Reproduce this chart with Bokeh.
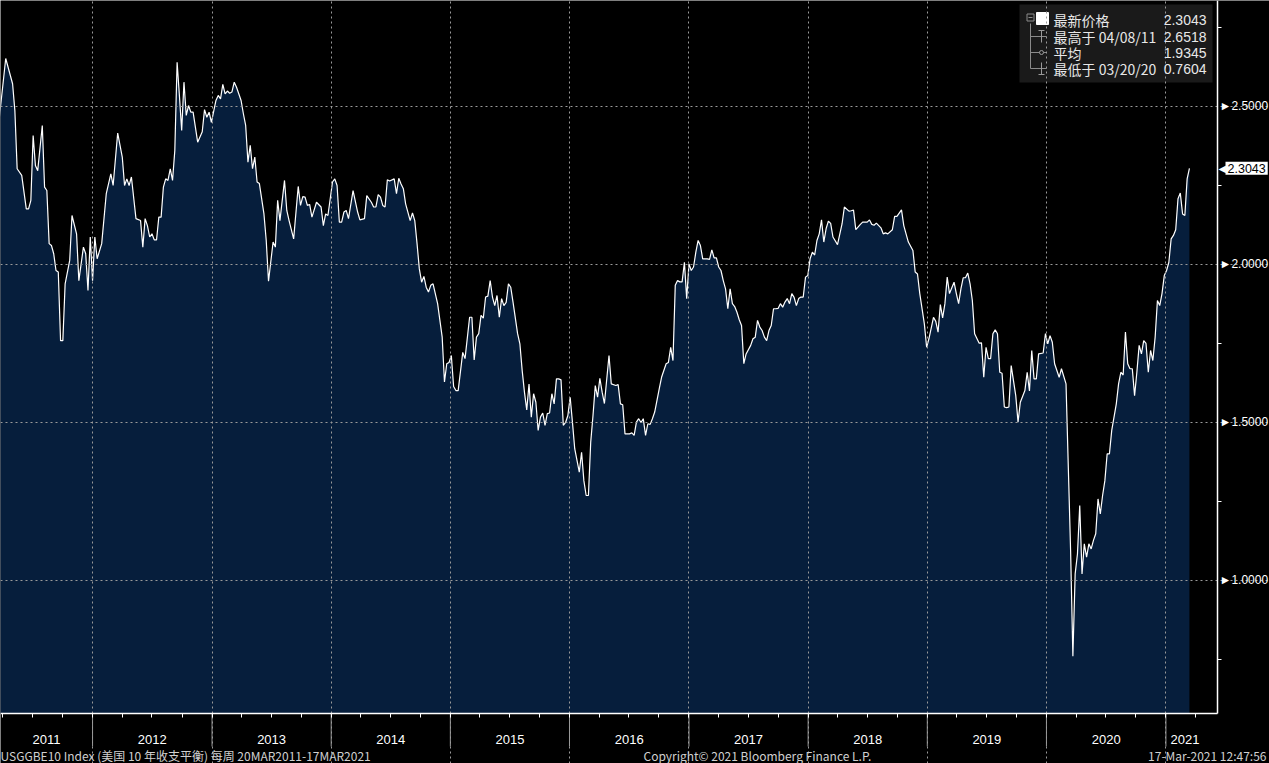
import numpy as np
import pandas as pd
from bokeh.plotting import figure
from bokeh.models import (Range1d, LinearAxis, FixedTicker, Grid, Label,
                          CustomJSTickFormatter, ColumnDataSource)
from bokeh.embed import file_html
from bokeh.resources import INLINE

# ---------------- data ----------------
start_date = "2011-03-20"          # weekly series, week 0 = this date
weeks = [0, 3, 6, 7, 8, 10, 12, 13, 14, 15, 16, 17, 19, 20, 21, 22, 23, 24, 25, 26,
         27, 28, 29, 31, 32, 34, 35, 37, 38, 39, 40, 41, 42, 43, 45, 47, 49, 50, 52, 54,
         55, 56, 57, 58, 60, 62, 63, 64, 65, 66, 67, 68, 69, 70, 71, 72, 73, 74, 75, 76,
         77, 78, 79, 80, 81, 82, 83, 84, 85, 87, 89, 90, 91, 92, 93, 95, 96, 97, 98, 99,
         100, 101, 102, 103, 104, 106, 107, 108, 109, 110, 111, 112, 113, 114, 116, 117, 118, 120, 121, 122,
         123, 125, 126, 127, 129, 131, 132, 133, 134, 135, 136, 137, 139, 141, 142, 143, 144, 146, 147, 148,
         149, 150, 151, 152, 153, 155, 157, 158, 160, 161, 163, 164, 165, 166, 167, 168, 169, 170, 171, 173,
         174, 175, 176, 177, 178, 180, 181, 182, 183, 184, 185, 186, 187, 188, 189, 190, 192, 194, 195, 196,
         197, 198, 199, 200, 201, 203, 204, 206, 207, 208, 209, 210, 211, 212, 213, 214, 215, 216, 217, 218,
         219, 220, 221, 222, 223, 224, 225, 227, 228, 229, 230, 231, 232, 233, 234, 235, 236, 237, 238, 239,
         240, 241, 242, 243, 244, 245, 246, 247, 248, 249, 250, 251, 252, 254, 255, 256, 257, 258, 259, 260,
         261, 262, 263, 264, 265, 267, 268, 270, 271, 272, 273, 274, 276, 277, 278, 279, 280, 281, 282, 283,
         284, 285, 286, 287, 289, 290, 292, 293, 294, 295, 296, 297, 298, 299, 300, 301, 302, 303, 304, 305,
         306, 307, 308, 310, 311, 312, 313, 314, 315, 316, 317, 318, 319, 320, 321, 322, 323, 324, 325, 326,
         327, 329, 330, 331, 332, 333, 334, 335, 336, 337, 338, 339, 340, 341, 342, 343, 344, 345, 346, 347,
         348, 349, 350, 351, 352, 353, 354, 355, 356, 357, 358, 359, 360, 361, 362, 363, 364, 365, 367, 369,
         370, 372, 373, 374, 375, 377, 378, 380, 381, 382, 383, 384, 386, 387, 388, 389, 391, 392, 393, 395,
         396, 398, 400, 401, 402, 403, 405, 406, 407, 409, 410, 411, 412, 413, 414, 415, 416, 418, 419, 420,
         421, 422, 423, 424, 425, 426, 427, 429, 430, 431, 432, 433, 434, 435, 436, 437, 438, 439, 440, 441,
         442, 443, 445, 446, 447, 449, 450, 451, 452, 453, 454, 455, 457, 458, 459, 460, 461, 462, 464, 465,
         467, 468, 469, 470, 471, 472, 473, 474, 475, 476, 477, 478, 479, 480, 481, 482, 483, 484, 485, 486,
         487, 489, 490, 491, 492, 493, 494, 495, 496, 497, 498, 499, 500, 501, 502, 503, 504, 505, 506, 507,
         508, 509, 510, 511, 512, 513, 514, 515, 516, 517, 518, 519, 520, 521]
values = [2.450, 2.6518, 2.572, 2.487, 2.303, 2.282, 2.176, 2.176, 2.203, 2.408, 2.313, 2.297, 2.440, 2.245, 2.234, 2.066, 2.060, 2.034, 1.981, 1.976,
          1.759, 1.759, 1.939, 2.013, 2.155, 2.097, 1.949, 2.055, 2.034, 1.918, 2.087, 1.949, 2.087, 2.018, 2.066, 2.224, 2.287, 2.250, 2.416, 2.340,
          2.250, 2.271, 2.250, 2.277, 2.145, 2.139, 2.055, 2.145, 2.123, 2.087, 2.097, 2.078, 2.078, 2.150, 2.150, 2.245, 2.271, 2.266, 2.303, 2.266,
          2.361, 2.640, 2.535, 2.424, 2.577, 2.472, 2.503, 2.482, 2.482, 2.387, 2.420, 2.490, 2.466, 2.482, 2.450, 2.519, 2.535, 2.524, 2.570, 2.540,
          2.549, 2.542, 2.546, 2.577, 2.561, 2.519, 2.477, 2.440, 2.324, 2.377, 2.303, 2.340, 2.261, 2.256, 2.160, 2.076, 1.947, 2.071, 2.055, 2.203,
          2.139, 2.266, 2.171, 2.139, 2.081, 2.247, 2.187, 2.215, 2.213, 2.187, 2.190, 2.150, 2.197, 2.182, 2.123, 2.160, 2.155, 2.261, 2.271, 2.250,
          2.134, 2.134, 2.166, 2.171, 2.145, 2.234, 2.166, 2.141, 2.145, 2.218, 2.197, 2.182, 2.182, 2.221, 2.213, 2.187, 2.182, 2.268, 2.264, 2.271,
          2.224, 2.273, 2.255, 2.240, 2.192, 2.139, 2.163, 2.139, 2.066, 1.986, 1.944, 1.962, 1.928, 1.913, 1.934, 1.939, 1.876, 1.770, 1.628, 1.686,
          1.690, 1.712, 1.614, 1.601, 1.601, 1.722, 1.702, 1.833, 1.833, 1.698, 1.770, 1.781, 1.839, 1.830, 1.897, 1.900, 1.949, 1.897, 1.870, 1.902,
          1.833, 1.892, 1.870, 1.880, 1.939, 1.928, 1.881, 1.781, 1.749, 1.665, 1.596, 1.540, 1.622, 1.517, 1.591, 1.564, 1.475, 1.517, 1.530, 1.491,
          1.528, 1.530, 1.591, 1.559, 1.638, 1.638, 1.635, 1.491, 1.500, 1.522, 1.580, 1.501, 1.417, 1.343, 1.406, 1.316, 1.269, 1.269, 1.438, 1.522,
          1.617, 1.580, 1.640, 1.596, 1.560, 1.712, 1.622, 1.617, 1.620, 1.559, 1.556, 1.464, 1.464, 1.467, 1.459, 1.501, 1.512, 1.500, 1.512, 1.459,
          1.496, 1.494, 1.512, 1.533, 1.607, 1.643, 1.686, 1.690, 1.738, 1.696, 1.934, 1.949, 1.945, 1.945, 2.007, 1.892, 2.002, 1.981, 1.992, 2.039,
          2.076, 2.060, 2.018, 2.018, 2.016, 2.046, 2.021, 2.021, 1.992, 1.981, 1.949, 1.923, 1.860, 1.923, 1.876, 1.867, 1.849, 1.825, 1.807, 1.686,
          1.717, 1.744, 1.765, 1.770, 1.823, 1.802, 1.791, 1.770, 1.759, 1.791, 1.807, 1.860, 1.860, 1.861, 1.876, 1.865, 1.881, 1.892, 1.876, 1.908,
          1.896, 1.870, 1.892, 1.897, 1.897, 1.960, 1.965, 2.018, 2.039, 2.030, 2.076, 2.097, 2.141, 2.071, 2.113, 2.137, 2.130, 2.087, 2.063, 2.129,
          2.182, 2.169, 2.170, 2.172, 2.110, 2.127, 2.134, 2.134, 2.141, 2.127, 2.124, 2.131, 2.116, 2.097, 2.100, 2.097, 2.110, 2.152, 2.152, 2.173,
          2.123, 2.071, 2.044, 1.976, 1.970, 1.908, 1.812, 1.738, 1.765, 1.833, 1.820, 1.786, 1.873, 1.831, 1.876, 1.960, 1.908, 1.944, 1.908, 1.876,
          1.923, 1.958, 1.958, 1.973, 1.939, 1.886, 1.781, 1.751, 1.752, 1.643, 1.738, 1.702, 1.702, 1.781, 1.793, 1.781, 1.659, 1.656, 1.549, 1.547,
          1.549, 1.680, 1.585, 1.501, 1.564, 1.601, 1.659, 1.600, 1.728, 1.638, 1.638, 1.717, 1.720, 1.781, 1.749, 1.775, 1.754, 1.686, 1.643, 1.670,
          1.622, 1.358, 1.095, 0.7604, 1.021, 1.084, 1.237, 1.021, 1.116, 1.074, 1.116, 1.100, 1.127, 1.148, 1.258, 1.211, 1.269, 1.316, 1.401, 1.401,
          1.475, 1.559, 1.622, 1.659, 1.650, 1.786, 1.686, 1.670, 1.670, 1.585, 1.659, 1.744, 1.717, 1.759, 1.750, 1.659, 1.728, 1.696, 1.770, 1.886,
          1.870, 1.908, 1.965, 1.981, 2.007, 2.081, 2.092, 2.110, 2.208, 2.226, 2.160, 2.155, 2.271, 2.3043]

year_labels = ["2011", "2012", "2013", "2014", "2015", "2016", "2017", "2018", "2019", "2020", "2021"]
y_ticks = [1.0, 1.5, 2.0, 2.5]
y_minor_ticks = [0.75, 1.25, 1.75, 2.25, 2.75]
legend_names = ["最新价格", "最高于 04/08/11", "平均", "最低于 03/20/20"]
legend_values = ["2.3043", "2.6518", "1.9345", "0.7604"]
last_value = "2.3043"
footer_left = "USGGBE10 Index (美国 10 年收支平衡)  每周 20MAR2011-17MAR2021"
footer_mid = "Copyright© 2021 Bloomberg Finance L.P."
footer_right = "17-Mar-2021 12:47:56"

# ---------------- layout / styling ----------------
W, H = 1269, 763          # whole canvas is the frame
PW, PH = 1217, 713        # chart area (axes drawn at these edges)
BG = "#000000"
FILL = "#061e3c"
GRID = "#9a9a9a"

def ms(ts):
    return pd.Timestamp(ts).value / 1e6

# chart-area data limits
x_left, x_right = ms("2011-03-25"), ms("2021-06-08")
y_bot, y_top = 0.5791, 2.8354
# full-canvas ranges
x_full_end = x_left + W / PW * (x_right - x_left)
y_full_start = y_top - H / PH * (y_top - y_bot)

def px2x(px):
    return x_left + px / PW * (x_right - x_left)

def py2y(py):
    return y_top - py / PH * (y_top - y_bot)

dates = pd.Timestamp(start_date) + pd.to_timedelta(np.array(weeks) * 7, unit="D")
src = ColumnDataSource(dict(x=dates, y=values, base=[y_bot] * len(values)))

p = figure(width=W, height=H, x_range=Range1d(x_left, x_full_end), y_range=Range1d(y_full_start, y_top),
           x_axis_type=None, y_axis_type=None, toolbar_location=None,
           output_backend="svg", min_border=0,
           background_fill_color=BG, border_fill_color=BG, outline_line_color=None)

# area + line
p.varea(x="x", y1="y", y2="base", source=src, fill_color=FILL, level="underlay")
p.line(x="x", y="y", source=src, line_color="white", line_width=1.2)

jan1 = [ms(f"{y}-01-01") for y in range(2012, 2022)]
quarters = [ms(f"{y}-{m:02d}-01") for y in range(2011, 2022) for m in (1, 4, 7, 10)]
quarters = [q for q in quarters if x_left <= q <= x_right]

# dotted gridlines, limited to the chart area, drawn above the fill
p.add_layout(Grid(dimension=0, ticker=FixedTicker(ticks=jan1), bounds=(y_bot, y_top),
                  grid_line_color=GRID, grid_line_dash="2 3", grid_line_width=1, level="glyph"))
p.add_layout(Grid(dimension=1, ticker=FixedTicker(ticks=y_ticks), bounds=(x_left, x_right),
                  grid_line_color=GRID, grid_line_dash="2 3", grid_line_width=1, level="glyph"))

# right value axis
yaxis = LinearAxis(fixed_location=x_right, bounds=(y_bot, y_top),
                   ticker=FixedTicker(ticks=y_ticks, minor_ticks=y_minor_ticks),
                   formatter=CustomJSTickFormatter(code="return '\\u25BA' + tick.toFixed(4);"),
                   axis_line_color="white", axis_line_width=1.5,
                   major_tick_out=0, major_tick_in=0, minor_tick_out=4, minor_tick_in=0,
                   minor_tick_line_color="white",
                   major_label_text_color="white", major_label_text_font="Liberation Sans",
                   major_label_text_font_size="12px", major_label_standoff=-2)
p.add_layout(yaxis, "right")

# bottom year axis: labels centred in each year, quarterly minor ticks
mids = [(x_left + jan1[0]) / 2]
mids += [(jan1[i] + jan1[i + 1]) / 2 for i in range(len(jan1) - 1)]
mids += [jan1[-1] + 0.37 * (x_right - jan1[-1])]
xaxis = LinearAxis(fixed_location=y_bot, bounds=(x_left, x_right),
                   ticker=FixedTicker(ticks=mids, minor_ticks=quarters),
                   formatter=CustomJSTickFormatter(args=dict(labs=year_labels, pos=mids), code="""
                       let b = 0;
                       for (let i = 0; i < pos.length; i++)
                           if (Math.abs(pos[i] - tick) < Math.abs(pos[b] - tick)) b = i;
                       return labs[b];"""),
                   axis_line_color="white", axis_line_width=1.5,
                   major_tick_out=0, major_tick_in=0, minor_tick_out=4, minor_tick_in=0,
                   minor_tick_line_color="white",
                   major_label_text_color="white", major_label_text_font="Liberation Sans",
                   major_label_text_font_size="13px", major_label_standoff=17)
p.add_layout(xaxis, "below")

# year separators below the chart area (from the axis down past the labels)
p.segment(x0=jan1, y0=[y_bot] * len(jan1), x1=jan1, y1=[py2y(746)] * len(jan1),
          line_color="#9a9a9a", line_width=1)

# ---------------- info box (top right) ----------------
BOX = "#1c1c1c"
p.quad(left=px2x(1019), right=px2x(1212), top=py2y(4), bottom=py2y(82),
       fill_color=BOX, fill_alpha=0.92, line_color=None)
rows_y = [19, 36, 52, 68]
TREE = "#8a8a8a"
p.segment(x0=[px2x(1030)], y0=[py2y(23)], x1=[px2x(1030)], y1=[py2y(68)], line_color=TREE)
p.segment(x0=[px2x(1030)] * 3, y0=[py2y(r) for r in rows_y[1:]], x1=[px2x(1046)] * 3,
          y1=[py2y(r) for r in rows_y[1:]], line_color=TREE)
p.scatter(x=[px2x(1030)], y=[py2y(17)], marker="square", size=7, fill_color=BOX, line_color=TREE)
p.segment(x0=[px2x(1028)], y0=[py2y(17)], x1=[px2x(1032)], y1=[py2y(17)], line_color=TREE)
p.scatter(x=[px2x(1042)], y=[py2y(18)], marker="square", size=12, color="white")
p.segment(x0=[px2x(1038), px2x(1041)], y0=[py2y(30), py2y(30)], x1=[px2x(1044), px2x(1041)],
          y1=[py2y(30), py2y(42)], line_color="#9a9a9a")
p.scatter(x=[px2x(1041)], y=[py2y(52)], marker="circle", size=4, fill_color=BOX, line_color="#9a9a9a")
p.segment(x0=[px2x(1038), px2x(1041)], y0=[py2y(74), py2y(62)], x1=[px2x(1044), px2x(1041)],
          y1=[py2y(74), py2y(74)], line_color="#9a9a9a")

for i, (nm, vv) in enumerate(zip(legend_names, legend_values)):
    p.add_layout(Label(x=1053, y=H - rows_y[i], x_units="screen", y_units="screen", text=nm,
                       text_color="#e8e8e8", text_font="Noto Sans CJK SC", text_font_size="14px",
                       text_baseline="middle", text_align="left"))
    p.add_layout(Label(x=1206, y=H - rows_y[i], x_units="screen", y_units="screen", text=vv,
                       text_color="#e8e8e8", text_font="Liberation Sans", text_font_size="14px",
                       text_baseline="middle", text_align="right"))

# last value call-out on the right axis
p.add_layout(Label(x=PW + 1, y=float(last_value), x_units="screen", y_units="data", text="\u25C0",
                   text_color="white", text_font="DejaVu Sans", text_font_size="10px",
                   text_baseline="middle", text_align="left"))
p.add_layout(Label(x=PW + 8, y=float(last_value), x_units="screen", y_units="data", text=last_value,
                   text_color="black", text_font="Liberation Sans", text_font_size="12.5px",
                   text_baseline="middle", text_align="left",
                   background_fill_color="white", padding=2))

# footer
for txt, xx, al in [(footer_left, 0, "left"), (footer_mid, 643, "left"), (footer_right, W - 3, "right")]:
    p.add_layout(Label(x=xx, y=H - 755, x_units="screen", y_units="screen", text=txt,
                       text_color="#d0d0d0", text_font="Noto Sans CJK SC", text_font_size="12px",
                       text_baseline="middle", text_align=al))

open("out.html", "w").write(file_html(p, INLINE))
